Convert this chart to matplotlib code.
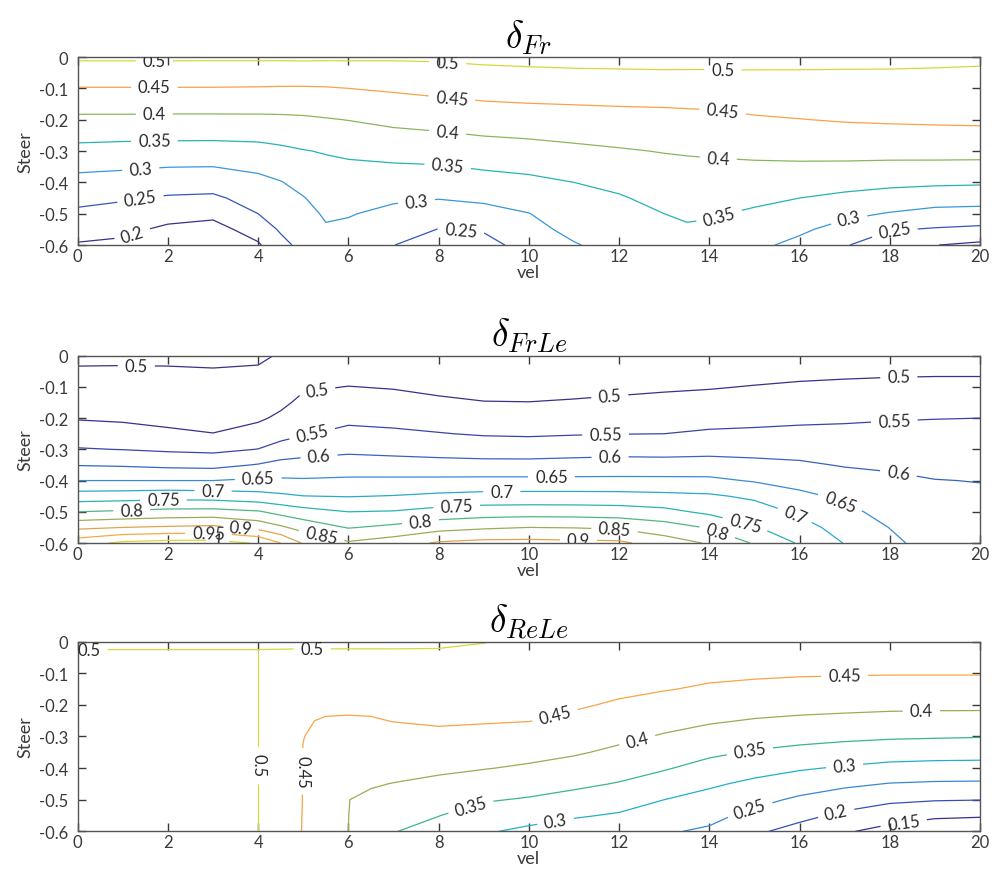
import matplotlib
matplotlib.use('Agg')
import matplotlib.pyplot as plt
from matplotlib.colors import LinearSegmentedColormap
from matplotlib.ticker import FuncFormatter
import numpy as np

plt.rcParams['font.family'] = ['Lato', 'DejaVu Sans']
plt.rcParams['mathtext.fontset'] = 'cm'
plt.rcParams['axes.unicode_minus'] = False

# line colours as they look in the figure (purple -> blue -> teal -> green -> orange -> yellow)
line_cmap = LinearSegmentedColormap.from_list('lines', [
    (0.00, '#3d2e8c'),
    (0.16, '#3354b8'),
    (0.32, '#3b94d8'),
    (0.44, '#1fb3c7'),
    (0.56, '#30b598'),
    (0.66, '#86b85e'),
    (0.72, '#a3a852'),
    (0.83, '#f6a24a'),
    (0.92, '#f5ad40'),
    (1.00, '#d8d83a'),
])

# ---- data: delta_Fr (one list per vel column, values from steer 0 down to -0.6)
fr_vel = [0, 1, 2, 3, 4, 4.5, 5, 5.5, 6, 7, 8, 9, 10, 11, 12, 13, 13.5, 14, 15, 16, 17, 18, 19, 20]
fr_steer = [0, -0.05, -0.1, -0.15, -0.2, -0.25, -0.3, -0.35, -0.4, -0.45, -0.5, -0.55, -0.6]
fr_cols = [
    [0.507, 0.478, 0.448, 0.419, 0.390, 0.363, 0.336, 0.309, 0.286, 0.263, 0.241, 0.218, 0.196],
    [0.507, 0.478, 0.448, 0.419, 0.390, 0.361, 0.333, 0.306, 0.280, 0.255, 0.233, 0.211, 0.190],
    [0.507, 0.478, 0.448, 0.419, 0.389, 0.360, 0.331, 0.301, 0.273, 0.245, 0.218, 0.191, 0.165],
    [0.507, 0.477, 0.448, 0.419, 0.389, 0.360, 0.330, 0.300, 0.271, 0.242, 0.212, 0.182, 0.152],
    [0.507, 0.477, 0.447, 0.418, 0.390, 0.361, 0.335, 0.309, 0.288, 0.269, 0.250, 0.222, 0.194],
    [0.507, 0.477, 0.446, 0.418, 0.391, 0.365, 0.341, 0.319, 0.298, 0.284, 0.270, 0.256, 0.235],
    [0.508, 0.476, 0.446, 0.419, 0.393, 0.370, 0.348, 0.331, 0.314, 0.298, 0.287, 0.276, 0.265],
    [0.507, 0.477, 0.447, 0.422, 0.397, 0.375, 0.353, 0.340, 0.328, 0.316, 0.305, 0.296, 0.290],
    [0.507, 0.478, 0.450, 0.426, 0.401, 0.380, 0.359, 0.342, 0.329, 0.316, 0.303, 0.291, 0.280],
    [0.506, 0.481, 0.456, 0.433, 0.411, 0.389, 0.366, 0.345, 0.326, 0.307, 0.288, 0.269, 0.251],
    [0.507, 0.484, 0.462, 0.440, 0.417, 0.394, 0.371, 0.347, 0.325, 0.302, 0.276, 0.249, 0.222],
    [0.511, 0.489, 0.467, 0.446, 0.423, 0.401, 0.378, 0.355, 0.332, 0.309, 0.283, 0.256, 0.228],
    [0.513, 0.492, 0.470, 0.449, 0.427, 0.405, 0.383, 0.361, 0.339, 0.319, 0.299, 0.287, 0.275],
    [0.515, 0.494, 0.472, 0.451, 0.430, 0.410, 0.390, 0.370, 0.350, 0.337, 0.324, 0.311, 0.297],
    [0.516, 0.495, 0.474, 0.453, 0.433, 0.415, 0.396, 0.379, 0.361, 0.346, 0.336, 0.325, 0.315],
    [0.517, 0.496, 0.475, 0.454, 0.436, 0.419, 0.402, 0.388, 0.376, 0.363, 0.350, 0.340, 0.330],
    [0.516, 0.496, 0.476, 0.455, 0.438, 0.421, 0.404, 0.391, 0.379, 0.368, 0.356, 0.345, 0.335],
    [0.516, 0.496, 0.476, 0.456, 0.439, 0.423, 0.406, 0.392, 0.380, 0.367, 0.355, 0.342, 0.330],
    [0.514, 0.497, 0.480, 0.462, 0.445, 0.428, 0.410, 0.393, 0.377, 0.360, 0.343, 0.327, 0.310],
    [0.513, 0.497, 0.481, 0.465, 0.449, 0.431, 0.413, 0.393, 0.372, 0.350, 0.329, 0.308, 0.288],
    [0.511, 0.497, 0.482, 0.468, 0.453, 0.434, 0.414, 0.392, 0.366, 0.340, 0.311, 0.283, 0.255],
    [0.510, 0.497, 0.483, 0.469, 0.455, 0.436, 0.414, 0.390, 0.361, 0.330, 0.297, 0.254, 0.212],
    [0.509, 0.496, 0.483, 0.470, 0.456, 0.438, 0.415, 0.389, 0.358, 0.322, 0.285, 0.246, 0.201],
    [0.507, 0.495, 0.482, 0.470, 0.457, 0.439, 0.415, 0.388, 0.356, 0.320, 0.282, 0.240, 0.190],
]
fr_levels = [0.2, 0.25, 0.3, 0.35, 0.4, 0.45, 0.5]

# ---- data: delta_FrLe
frle_vel = [0, 1, 2, 3, 4, 4.5, 5, 6, 7, 8, 9, 10, 11, 12, 13, 14, 15, 16, 17, 18, 19, 20]
frle_steer = fr_steer
frle_cols = [
    [0.510, 0.495, 0.485, 0.488, 0.497, 0.523, 0.553, 0.598, 0.650, 0.723, 0.800, 0.890, 0.978],
    [0.512, 0.493, 0.482, 0.483, 0.493, 0.519, 0.549, 0.595, 0.650, 0.726, 0.807, 0.900, 1.010],
    [0.514, 0.493, 0.478, 0.476, 0.485, 0.510, 0.543, 0.589, 0.650, 0.731, 0.815, 0.906, 1.019],
    [0.515, 0.496, 0.478, 0.473, 0.481, 0.501, 0.539, 0.586, 0.650, 0.727, 0.817, 0.911, 1.019],
    [0.506, 0.496, 0.487, 0.484, 0.493, 0.519, 0.551, 0.603, 0.658, 0.717, 0.805, 0.884, 0.996],
    [0.497, 0.490, 0.487, 0.490, 0.509, 0.534, 0.568, 0.616, 0.657, 0.709, 0.784, 0.858, 0.950],
    [0.482, 0.488, 0.494, 0.511, 0.528, 0.546, 0.580, 0.618, 0.655, 0.701, 0.768, 0.832, 0.895],
    [0.461, 0.481, 0.501, 0.520, 0.539, 0.563, 0.590, 0.622, 0.658, 0.698, 0.750, 0.797, 0.856],
    [0.458, 0.478, 0.497, 0.517, 0.536, 0.558, 0.586, 0.619, 0.659, 0.702, 0.753, 0.811, 0.876],
    [0.446, 0.467, 0.488, 0.509, 0.530, 0.552, 0.582, 0.616, 0.660, 0.710, 0.767, 0.832, 0.906],
    [0.437, 0.459, 0.480, 0.502, 0.524, 0.546, 0.577, 0.615, 0.661, 0.716, 0.775, 0.843, 0.915],
    [0.436, 0.457, 0.479, 0.501, 0.522, 0.544, 0.576, 0.615, 0.661, 0.717, 0.777, 0.850, 0.915],
    [0.441, 0.462, 0.483, 0.505, 0.526, 0.547, 0.580, 0.617, 0.661, 0.717, 0.776, 0.848, 0.912],
    [0.448, 0.469, 0.489, 0.509, 0.529, 0.549, 0.583, 0.619, 0.661, 0.716, 0.773, 0.842, 0.910],
    [0.456, 0.475, 0.494, 0.512, 0.531, 0.550, 0.582, 0.618, 0.661, 0.712, 0.763, 0.822, 0.875],
    [0.460, 0.479, 0.497, 0.516, 0.535, 0.556, 0.585, 0.619, 0.660, 0.707, 0.740, 0.796, 0.845],
    [0.466, 0.484, 0.502, 0.520, 0.538, 0.558, 0.584, 0.613, 0.646, 0.691, 0.724, 0.754, 0.795],
    [0.471, 0.489, 0.506, 0.523, 0.541, 0.561, 0.583, 0.607, 0.633, 0.661, 0.692, 0.719, 0.745],
    [0.474, 0.491, 0.509, 0.526, 0.544, 0.561, 0.579, 0.597, 0.619, 0.641, 0.661, 0.680, 0.698],
    [0.475, 0.493, 0.511, 0.529, 0.547, 0.563, 0.578, 0.594, 0.608, 0.622, 0.635, 0.649, 0.661],
    [0.475, 0.494, 0.512, 0.531, 0.549, 0.563, 0.576, 0.589, 0.601, 0.609, 0.616, 0.623, 0.630],
    [0.475, 0.494, 0.512, 0.531, 0.550, 0.562, 0.575, 0.587, 0.599, 0.606, 0.612, 0.618, 0.624],
]
frle_levels = [0.5, 0.55, 0.6, 0.65, 0.7, 0.75, 0.8, 0.85, 0.9, 0.95, 1.0]

# ---- data: delta_ReLe (flat 0.5 plateau for vel <= 4)
rele_vel = [0, 2, 4, 5, 5.5, 6, 6.5, 7, 8, 9, 10, 11, 12, 13, 14, 15, 16, 17, 18, 19, 20]
rele_steer = [0, -0.025, -0.05, -0.1, -0.15, -0.2, -0.25, -0.3, -0.35, -0.4, -0.45, -0.5, -0.55, -0.6]
rele_cols = [
    [0.510, 0.500, 0.500, 0.500, 0.500, 0.500, 0.500, 0.500, 0.500, 0.500, 0.500, 0.500, 0.500, 0.500],
    [0.510, 0.500, 0.500, 0.500, 0.500, 0.500, 0.500, 0.500, 0.500, 0.500, 0.500, 0.500, 0.500, 0.500],
    [0.510, 0.500, 0.500, 0.500, 0.500, 0.500, 0.500, 0.500, 0.500, 0.500, 0.500, 0.500, 0.500, 0.500],
    [0.510, 0.499, 0.493, 0.481, 0.470, 0.460, 0.453, 0.4505, 0.449, 0.449, 0.449, 0.449, 0.4485, 0.448],
    [0.510, 0.499, 0.494, 0.483, 0.470, 0.458, 0.447, 0.443, 0.439, 0.435, 0.431, 0.427, 0.423, 0.419],
    [0.510, 0.499, 0.495, 0.484, 0.472, 0.461, 0.444, 0.433, 0.422, 0.411, 0.401, 0.4005, 0.4003, 0.3999],
    [0.510, 0.499, 0.494, 0.482, 0.470, 0.458, 0.447, 0.436, 0.425, 0.414, 0.403, 0.393, 0.384, 0.375],
    [0.510, 0.499, 0.494, 0.483, 0.473, 0.462, 0.451, 0.438, 0.425, 0.412, 0.399, 0.383, 0.366, 0.352],
    [0.506, 0.499, 0.494, 0.484, 0.474, 0.464, 0.455, 0.441, 0.425, 0.408, 0.390, 0.371, 0.351, 0.332],
    [0.501, 0.496, 0.491, 0.482, 0.472, 0.462, 0.453, 0.438, 0.420, 0.402, 0.378, 0.354, 0.329, 0.305],
    [0.493, 0.489, 0.485, 0.476, 0.468, 0.459, 0.451, 0.433, 0.414, 0.394, 0.370, 0.346, 0.318, 0.290],
    [0.492, 0.488, 0.483, 0.474, 0.465, 0.455, 0.441, 0.423, 0.405, 0.383, 0.360, 0.333, 0.305, 0.277],
    [0.489, 0.484, 0.479, 0.468, 0.458, 0.445, 0.428, 0.410, 0.391, 0.370, 0.347, 0.321, 0.295, 0.268],
    [0.485, 0.480, 0.474, 0.463, 0.452, 0.435, 0.415, 0.396, 0.375, 0.354, 0.328, 0.300, 0.278, 0.255],
    [0.481, 0.475, 0.469, 0.458, 0.445, 0.425, 0.405, 0.382, 0.359, 0.334, 0.307, 0.284, 0.263, 0.243],
    [0.478, 0.472, 0.466, 0.456, 0.440, 0.419, 0.397, 0.372, 0.346, 0.317, 0.290, 0.264, 0.237, 0.208],
    [0.475, 0.469, 0.464, 0.454, 0.436, 0.415, 0.392, 0.365, 0.337, 0.305, 0.273, 0.242, 0.213, 0.183],
    [0.474, 0.468, 0.463, 0.453, 0.435, 0.413, 0.388, 0.360, 0.329, 0.295, 0.259, 0.224, 0.190, 0.155],
    [0.473, 0.468, 0.462, 0.452, 0.434, 0.411, 0.384, 0.356, 0.322, 0.286, 0.248, 0.209, 0.171, 0.134],
    [0.473, 0.468, 0.462, 0.452, 0.434, 0.410, 0.383, 0.354, 0.319, 0.283, 0.244, 0.203, 0.159, 0.114],
    [0.473, 0.468, 0.462, 0.452, 0.434, 0.410, 0.382, 0.352, 0.318, 0.282, 0.243, 0.201, 0.155, 0.110],
]
rele_levels = [0.15, 0.2, 0.25, 0.3, 0.35, 0.4, 0.45, 0.5]

# where the inline labels sit (vel, steer)
fr_labels = [(1.7, -0.012), (8.2, -0.015), (14.3, -0.04),
             (1.7, -0.097), (8.3, -0.125), (14.3, -0.165),
             (1.7, -0.182), (8.2, -0.24), (14.2, -0.32),
             (1.7, -0.27), (8.2, -0.35), (14.2, -0.5),
             (1.4, -0.36), (7.5, -0.45), (17.1, -0.52),
             (1.4, -0.46), (8.5, -0.545), (18.1, -0.55),
             (1.2, -0.56)]
frle_labels = [(1.3, -0.03), (5.3, -0.11), (11.8, -0.14), (18.2, -0.068),
               (5.2, -0.25), (11.7, -0.253), (18.1, -0.205),
               (5.35, -0.32), (11.8, -0.328), (18.2, -0.37),
               (4.0, -0.39), (10.5, -0.39), (16.9, -0.47),
               (3.0, -0.435), (9.4, -0.435), (15.9, -0.51),
               (1.9, -0.46), (8.4, -0.485), (14.8, -0.535),
               (1.2, -0.497), (7.6, -0.535), (14.2, -0.555),
               (5.4, -0.58), (11.9, -0.553),
               (3.6, -0.548), (11.1, -0.585),
               (2.9, -0.568), (3.1, -0.593)]
rele_labels = [(0.25, -0.025), (5.2, -0.023),
               (4.95, -0.41), (10.6, -0.245), (17.0, -0.117),
               (12.4, -0.31), (18.7, -0.222),
               (8.7, -0.515), (14.9, -0.347),
               (10.6, -0.575), (17.0, -0.395),
               (14.9, -0.53), (16.8, -0.535), (18.3, -0.565)]


def fmt(v):
    return f'{round(v, 2):g}'


def steer_fmt(v, pos):
    s = f'{round(v, 2):g}'
    return '0' if s == '-0' else s


fig = plt.figure(figsize=(9.92, 8.7), dpi=100)
ax_pos = [[0.0783, 0.7172, 0.9096, 0.2161],
          [0.0783, 0.3747, 0.9096, 0.2153],
          [0.0783, 0.0433, 0.9096, 0.2180]]
titles = [r'$\delta_{Fr}$', r'$\delta_{FrLe}$', r'$\delta_{ReLe}$']
panels = [(fr_vel, fr_steer, fr_cols, fr_levels, fr_labels),
          (frle_vel, frle_steer, frle_cols, frle_levels, frle_labels),
          (rele_vel, rele_steer, rele_cols, rele_levels, rele_labels)]

for i, (vel, steer, cols, levels, lab) in enumerate(panels):
    ax = fig.add_axes(ax_pos[i])
    Z = np.array(cols).T
    cs = ax.contour(vel, steer, Z, levels=levels, cmap=line_cmap, linewidths=0.9)
    ax.clabel(cs, inline=True, inline_spacing=7, fmt=fmt, fontsize=12,
              colors='#2a2a2a', manual=lab)
    if i == 2:
        # edge of the flat 0.5 plateau at vel = 4
        cs2 = ax.contour(vel[2:4], steer[1:], Z[1:, 2:4], levels=[0.5 - 1e-9],
                         colors=[line_cmap(1.0)], linewidths=0.9)
        ax.clabel(cs2, inline=True, inline_spacing=7, fmt=fmt, fontsize=12,
                  colors='#2a2a2a', manual=[(4.0, -0.39)])
    ax.set_xlim(0, 20)
    ax.set_ylim(-0.6, 0)
    ax.set_xticks(range(0, 21, 2))
    ax.set_yticks([0, -0.1, -0.2, -0.3, -0.4, -0.5, -0.6])
    ax.yaxis.set_major_formatter(FuncFormatter(steer_fmt))
    ax.tick_params(direction='in', length=6, width=1.0, top=True, right=True,
                   labelsize=12, colors='#3a3a3a')
    ax.tick_params(axis='x', pad=2)
    ax.tick_params(axis='y', pad=7)
    for sp in ax.spines.values():
        sp.set_color('#555555')
        sp.set_linewidth(1.0)
    ax.set_xlabel('vel', fontsize=13, color='#3a3a3a', labelpad=0)
    ax.set_ylabel('Steer', fontsize=13, color='#3a3a3a', labelpad=4)
    ax.set_title(titles[i], fontsize=27, pad=7)

fig.savefig('out.png', dpi=100)
